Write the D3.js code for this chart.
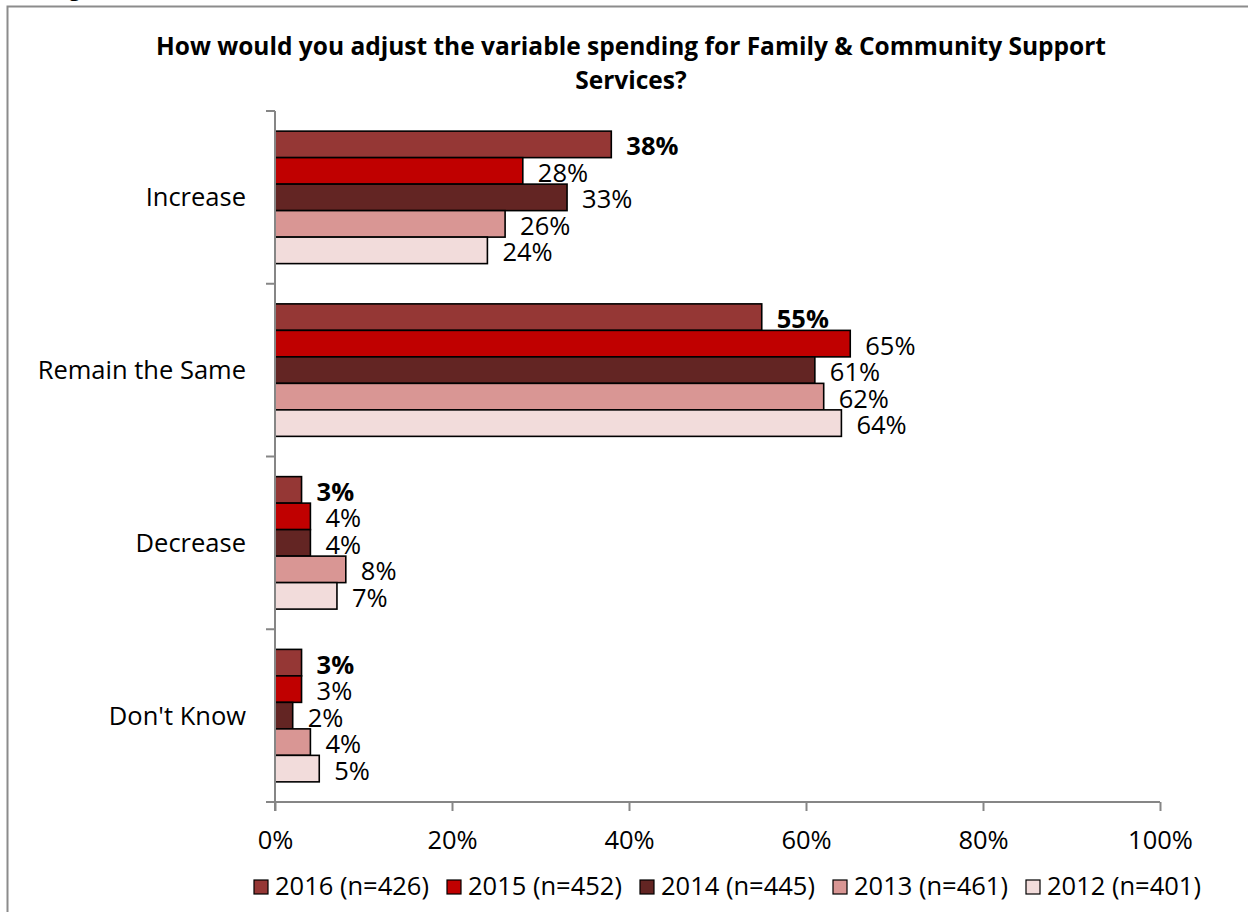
<!DOCTYPE html>
<html>
<head>
<meta charset="utf-8">
<script src="https://cdn.jsdelivr.net/npm/d3@7/dist/d3.min.js"></script>
<style>
  html, body { margin: 0; padding: 0; background: #fff; }
  svg { display: block; }
  text { font-family: "Open Sans", Lato, sans-serif; fill: #000; }
</style>
</head>
<body>
<svg id="chart" width="1248" height="912"></svg>
<script>
// Answer options (rows) and survey years (series)
const categories = ["Increase", "Remain the Same", "Decrease", "Don't Know"];
const seriesNames = ["2016 (n=426)", "2015 (n=452)", "2014 (n=445)", "2013 (n=461)", "2012 (n=401)"];
const seriesColors = ["#953735", "#C00000", "#632523", "#D99694", "#F2DCDB"];

// Percent of respondents, one array per year, in category order
const values2016 = [38, 55, 3, 3];
const values2015 = [28, 65, 4, 3];
const values2014 = [33, 61, 4, 2];
const values2013 = [26, 62, 8, 4];
const values2012 = [24, 64, 7, 5];
const seriesValues = [values2016, values2015, values2014, values2013, values2012];

const xTicks = [0, 20, 40, 60, 80, 100];
const titleLines = ["How would you adjust the variable spending for Family & Community Support", "Services?"];

const FS = 25.5;       // body text size
const TITLE_FS = 24.5; // title size

const svg = d3.select("#chart");

// outer chart frame (runs off the right and bottom edges)
svg.append("rect")
  .attr("x", 7.5).attr("y", 6.5)
  .attr("width", 1300).attr("height", 1000)
  .attr("fill", "none").attr("stroke", "#8c8c8c").attr("stroke-width", 2);

// caption above the frame, mostly out of view
svg.append("text")
  .attr("x", 52).attr("y", -4)
  .attr("font-weight", "bold").attr("font-size", 20)
  .text("Fig");

const margin = { left: 275, right: 88, top: 111 };
const plotW = 1248 - margin.left - margin.right;
const plotBottom = 802;

const x = d3.scaleLinear().domain([0, 100]).range([margin.left, margin.left + plotW]);
const y = d3.scaleBand().domain(categories).range([margin.top, plotBottom]).padding(0);
const ySeries = d3.scaleBand().domain(seriesNames).range([0, y.bandwidth()])
  .paddingInner(0).paddingOuter(0.76);

// title
const title = svg.append("text")
  .attr("text-anchor", "middle")
  .attr("font-weight", "bold").attr("font-size", TITLE_FS);
titleLines.forEach((line, i) => {
  title.append("tspan").attr("x", 631).attr("y", 55 + i * 34).text(line);
});

// bars
const rows = [];
categories.forEach((c, ci) => {
  seriesNames.forEach((s, si) => {
    rows.push({ cat: c, series: s, si, value: seriesValues[si][ci] });
  });
});

const g = svg.append("g");
g.selectAll("rect.bar").data(rows).join("rect")
  .attr("class", "bar")
  .attr("x", x(0))
  .attr("y", d => y(d.cat) + ySeries(d.series))
  .attr("width", d => x(d.value) - x(0))
  .attr("height", ySeries.bandwidth())
  .attr("fill", d => seriesColors[d.si])
  .attr("stroke", "#000").attr("stroke-width", 1.6);

// value labels
g.selectAll("text.val").data(rows).join("text")
  .attr("class", "val")
  .attr("x", d => x(d.value) + 15)
  .attr("y", d => y(d.cat) + ySeries(d.series) + ySeries.bandwidth() / 2 + 11)
  .attr("font-size", FS)
  .attr("font-weight", d => d.si === 0 ? "bold" : "normal")
  .text(d => d.value + "%");

// y axis: vertical line with ticks at the category boundaries
const yAxisG = svg.append("g").attr("transform", `translate(${x(0)},0)`);
const bounds = categories.map(c => y(c)).concat([y.range()[1]]);
yAxisG.append("line").attr("x1", 0).attr("x2", 0)
  .attr("y1", y.range()[0]).attr("y2", y.range()[1] + 9)
  .attr("stroke", "#868686").attr("stroke-width", 2);
yAxisG.selectAll("line.yt").data(bounds).join("line")
  .attr("class", "yt")
  .attr("x1", -9).attr("x2", 0)
  .attr("y1", d => d).attr("y2", d => d)
  .attr("stroke", "#868686").attr("stroke-width", 2);

// category labels
svg.selectAll("text.cat").data(categories).join("text")
  .attr("class", "cat")
  .attr("x", 246)
  .attr("y", d => y(d) + y.bandwidth() / 2 + 9)
  .attr("text-anchor", "end")
  .attr("font-size", FS)
  .text(d => d);

// x axis
const xAxis = d3.axisBottom(x).tickValues(xTicks).tickSize(9).tickFormat(d => d + "%");
const xAxisG = svg.append("g").attr("transform", `translate(0,${plotBottom})`).call(xAxis);
xAxisG.select(".domain").attr("stroke", "#868686").attr("stroke-width", 2)
  .attr("d", `M${x(0) - 9},0H${x(100)}`);
xAxisG.selectAll(".tick line").attr("stroke", "#868686").attr("stroke-width", 2);
xAxisG.selectAll(".tick text")
  .attr("font-size", FS).attr("font-family", "'Open Sans', sans-serif")
  .attr("fill", "#000").attr("dy", null).attr("y", 47);

// legend
const legend = svg.append("g").attr("transform", "translate(254,895)");
const item = legend.selectAll("g").data(seriesNames).join("g")
  .attr("transform", (d, i) => `translate(${i * 193},0)`);
item.append("rect")
  .attr("x", 0).attr("y", -15).attr("width", 14).attr("height", 14)
  .attr("fill", (d, i) => seriesColors[i])
  .attr("stroke", "#000").attr("stroke-width", 1.2);
item.append("text")
  .attr("x", 21).attr("y", 0)
  .attr("font-size", FS)
  .text(d => d);
</script>
</body>
</html>
